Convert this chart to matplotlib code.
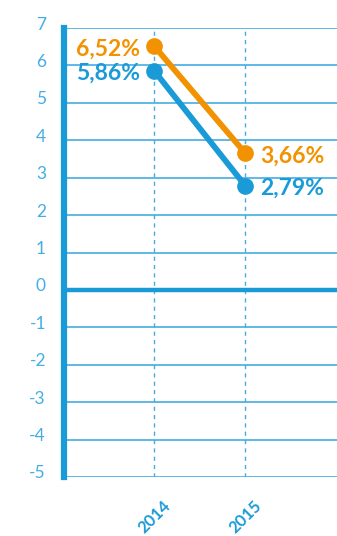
import matplotlib
matplotlib.use("Agg")
import matplotlib.pyplot as plt
import matplotlib.transforms as mtransforms

# data
years = ["2014", "2015"]
orange_vals = [6.52, 3.66]
blue_vals = [5.86, 2.79]
orange_labels = ["6,52%", "3,66%"]
blue_labels = ["5,86%", "2,79%"]
y_ticks = list(range(-5, 8))

ORANGE = "#F39200"
BLUE = "#1A9BD7"
LIGHT = "#45ADE2"

plt.rcParams['font.family'] = ['Lato', 'DejaVu Sans']

fig = plt.figure(figsize=(3.37, 5.36), dpi=100)
ax = fig.add_axes([64/337, 59/536, 1 - 64/337, 449/536])

x = list(range(len(years)))

# grid
for t in y_ticks:
    ax.axhline(t, color=LIGHT, lw=1.2, zorder=1)
ax.axhline(0, color=BLUE, lw=3.2, zorder=2)
for xi in x:
    ax.axvline(xi, color=LIGHT, lw=1.0, ls=(0, (3, 3)), zorder=1)

ax.plot(x, orange_vals, color=ORANGE, lw=4.2, marker='o', ms=11, zorder=4,
        solid_capstyle='round')
ax.plot(x, blue_vals, color=BLUE, lw=4.2, marker='o', ms=11, zorder=4,
        solid_capstyle='round')

# value labels
def put_labels(vals, labs, color):
    for xi, v, lab in zip(x, vals, labs):
        if xi == 0:
            ax.annotate(lab, (xi, v), xytext=(-10, -2), textcoords='offset points',
                        ha='right', va='center', color=color, fontsize=16.5, fontweight='bold')
        else:
            ax.annotate(lab, (xi, v), xytext=(11, -2), textcoords='offset points',
                        ha='left', va='center', color=color, fontsize=16.5, fontweight='bold')

put_labels(orange_vals, orange_labels, ORANGE)
put_labels(blue_vals, blue_labels, BLUE)

ax.set_xlim(-0.99, 2.01)
ax.set_ylim(-5, 7)

ax.set_yticks(y_ticks)
ax.set_yticklabels([str(t) for t in y_ticks], color=LIGHT, fontsize=12.5)
ax.tick_params(axis='y', length=0, pad=13)
offset = mtransforms.ScaledTranslation(0, 5/100, fig.dpi_scale_trans)
for lbl in ax.get_yticklabels():
    lbl.set_transform(lbl.get_transform() + offset)

ax.set_xticks(x)
ax.set_xticklabels(years, rotation=45, ha='center', va='top', color=BLUE,
                   fontsize=12, fontweight='bold')
ax.tick_params(axis='x', length=0, pad=15)

for s in ['top', 'right', 'bottom']:
    ax.spines[s].set_visible(False)
ax.spines['left'].set_color(BLUE)
ax.spines['left'].set_linewidth(4.5)
ax.spines['left'].set_zorder(5)

fig.savefig("out.png", dpi=100)
